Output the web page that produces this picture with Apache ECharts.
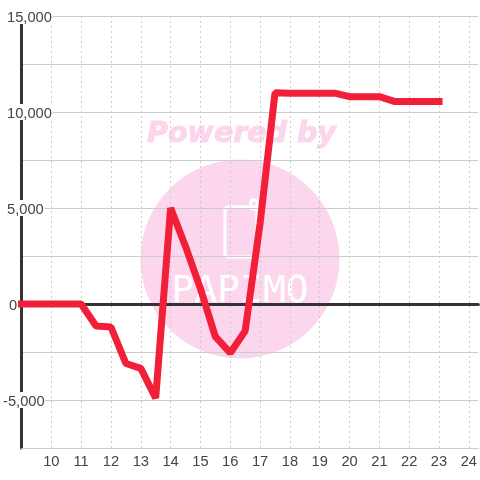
<!DOCTYPE html>
<html>
<head>
<meta charset="utf-8">
<style>html,body{margin:0;padding:0;background:#fff}#c{width:480px;height:480px}</style>
<script src="https://cdn.jsdelivr.net/npm/echarts@6/dist/echarts.min.js"></script>
</head>
<body>
<div id="c"></div>
<script>
const hours = [9,9.5,10,10.5,11,11.5,12,12.5,13,13.5,14,14.5,15,15.5,16,16.5,17,17.5,18,18.5,19,19.5,20,20.5,21,21.5,22,22.5,23];
const values = [0,0,0,0,0,-1150,-1200,-3100,-3350,-4900,5000,3000,800,-1700,-2550,-1400,4200,11000,10980,10980,10980,10980,10800,10800,10800,10550,10550,10550,10550];
const yLabels = {'15000':'a','10000':'a','5000':'a','0':'z','-5000':'n'};
const font = '"Liberation Sans", Arial, sans-serif';
const pink = '#fbd6ec';
const textColor = '#444';

const chart = echarts.init(document.getElementById('c'), null, {renderer:'canvas'});
const base = {fontFamily:font,fontSize:14.7,color:textColor,backgroundColor:'#fff',height:13,lineHeight:13};
chart.setOption({
  animation:false,
  backgroundColor:'#fff',
  grid:{left:20.5,right:0,top:16,bottom:32,containLabel:false},
  xAxis:[{
    type:'value',min:9,max:24.317,interval:1,
    axisLine:{onZero:false,lineStyle:{color:'#ccc',width:1}},
    axisTick:{show:false},
    axisLabel:{color:textColor,fontFamily:font,fontSize:14.7,margin:6,showMinLabel:false,showMaxLabel:false,
      formatter:v=>Number.isInteger(v)&&v>9?String(v):''},
    splitLine:{show:true,showMinLine:false,showMaxLine:false,lineStyle:{color:'#ccc',width:1,type:[2,3]}}
  },{
    type:'value',min:9,max:24.317,interval:1,position:'bottom',
    axisLine:{onZero:true,lineStyle:{color:'#333',width:3}},
    axisTick:{show:false},axisLabel:{show:false},splitLine:{show:false}
  }],
  yAxis:{
    type:'value',min:-7500,max:15000,interval:2500,
    axisLine:{show:true,onZero:false,lineStyle:{color:'#333',width:3}},
    axisTick:{show:false},
    splitLine:{show:true,lineStyle:{color:'#ccc',width:1}},
    axisLabel:{inside:true,margin:-18.5,showMinLabel:true,showMaxLabel:true,
      formatter:v=>{const k=yLabels[String(v)];return k?`{${k}|${echarts.format.addCommas(v)}}`:'';},
      rich:{
        a:Object.assign({},base,{padding:[3,1,0,4]}),
        n:Object.assign({},base,{padding:[3,0,0,0]}),
        z:Object.assign({},base,{padding:[3,0,0,6],backgroundColor:'transparent'})
      }
    }
  },
  graphic:[
    {type:'circle',z:-10,silent:true,shape:{cx:240,cy:259,r:99.5},style:{fill:pink}},
    {type:'text',z:-10,silent:true,x:241.5,y:135,style:{text:'Powered by',fill:pink,stroke:pink,lineWidth:1,font:'italic bold 28.5px "DejaVu Sans"',align:'center',verticalAlign:'middle'}},
    {type:'rect',z:-9,silent:true,shape:{x:225,y:207,width:32,height:50,r:3},style:{fill:'none',stroke:'#fff',lineWidth:3}},
    {type:'rect',z:-9,silent:true,shape:{x:251,y:200,width:6,height:9,r:2},style:{fill:'none',stroke:'#fff',lineWidth:3}},
    {type:'text',z:-9,silent:true,x:240,y:292,style:{text:'PAPIMO',fill:'#fff',font:'38px "DejaVu Sans Mono"',align:'center',verticalAlign:'middle'}}
  ],
  series:[{
    type:'line',xAxisIndex:0,
    data:hours.map((h,i)=>[h,values[i]]),
    showSymbol:false,symbol:'none',clip:false,
    lineStyle:{color:'#f21f38',width:7,cap:'square',join:'bevel'}
  }]
});
</script>
</body>
</html>
